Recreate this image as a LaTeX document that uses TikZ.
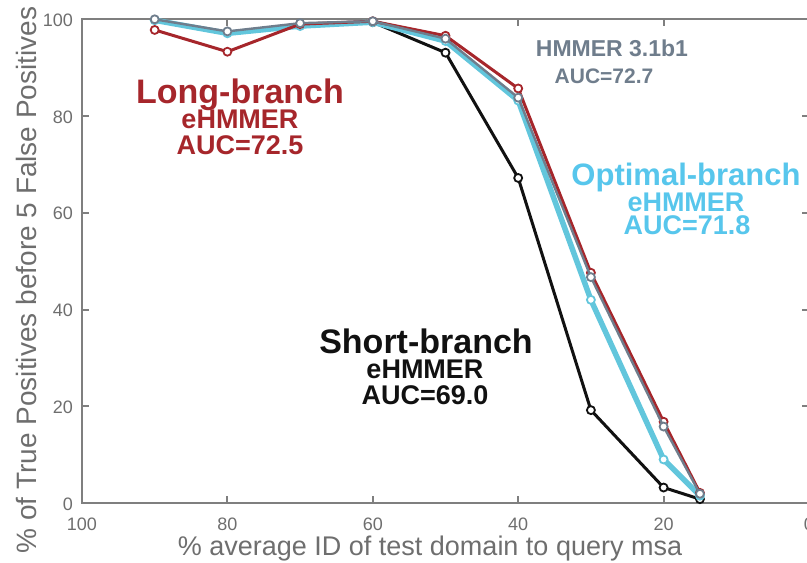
\documentclass[tikz,border=0pt]{standalone}
\usepackage{fontspec}
\setmainfont{Liberation Sans}

\definecolor{longred}{HTML}{A6262B}
\definecolor{hmmgray}{HTML}{6F7D8C}
\definecolor{optcyan}{HTML}{62C6DC}
\definecolor{opttext}{HTML}{57C6EC}
\definecolor{shortblk}{HTML}{111111}
\definecolor{axisgray}{HTML}{7F7F7F}
\definecolor{ticktext}{HTML}{6E6E6E}

\tikzset{
  axisline/.style={draw=axisgray,line width=2pt},
  ticklab/.style={text=ticktext,inner sep=0pt,font=\fontsize{18}{18}\selectfont},
  axislab/.style={text=ticktext,inner sep=0pt},
  redline/.style={draw=longred,line width=3pt,line join=round},
  grayline/.style={draw=hmmgray,line width=2.4pt,line join=round},
  cyanline/.style={draw=optcyan,line width=5.5pt,line join=round},
  blackline/.style={draw=shortblk,line width=3pt,line join=round},
  marker/.style={circle,fill=white,inner sep=0pt,minimum size=8pt,line width=1.8pt},
  bigtitle/.style={anchor=base,inner sep=0pt,font=\bfseries\fontsize{34}{34}\selectfont},
  subtitle/.style={anchor=base,inner sep=0pt,font=\bfseries\fontsize{27}{27}\selectfont},
}

\begin{document}
\begin{tikzpicture}[x=1pt,y=-1pt]
\useasboundingbox (0,0) rectangle (807,563);

% plot frame
\coordinate (bl) at (82,503);
\coordinate (tl) at (82,19);
\coordinate (br) at (809,503);
\coordinate (tr) at (809,19);
\draw[axisline] (tl) -- (bl) -- (br) -- (tr) -- cycle;

\begin{scope}[shift={(809,503)},x=-7.27pt,y=4.837pt]
  % x ticks (bottom and top) with labels
  \foreach \v in {20,40,60,80} {
    \coordinate (xb\v) at (\v,0);
    \coordinate (xt\v) at (\v,100);
    \draw[axisline] (xb\v) -- ++(0,7pt);
    \draw[axisline] (xt\v) -- ++(0,-7pt);
  }
  \foreach \v in {0,20,40,60,80,100}
    \node[ticklab,anchor=base] (xl\v) at ([yshift=-27pt]\v,0) {\v};
  % y ticks (left and right) with labels
  \foreach \v in {20,40,60,80} {
    \coordinate (yl\v) at (100,\v);
    \coordinate (yr\v) at (0,\v);
    \draw[axisline] (yl\v) -- ++(7pt,0);
    \draw[axisline] (yr\v) -- ++(-7pt,0);
  }
  \foreach \v in {0,20,40,60,80,100}
    \node[ticklab,anchor=east] (ylab\v) at ([xshift=-9pt,yshift=-1pt]100,\v) {\v};

  % Short-branch eHMMER
  \foreach \x/\y [count=\i] in {60/99.4,50/93.1,40/67.2,30/19.2,20/3.2,15/0.8}
    \coordinate (blk\i) at (\x,\y);
  \draw[blackline] (blk1) \foreach \i in {2,...,6} {-- (blk\i)};
  \foreach \i in {1,...,6}
    \node[marker,draw=shortblk] (blkm\i) at (blk\i) {};

  % Optimal-branch eHMMER
  \foreach \x/\y [count=\i] in {90/99.8,80/97.1,70/98.6,60/99.4,50/95.5,40/83.2,30/42.0,20/9.0,15/1.5}
    \coordinate (cyn\i) at (\x,\y);
  \draw[cyanline] (cyn1) \foreach \i in {2,...,9} {-- (cyn\i)};
  \foreach \i in {1,...,9}
    \node[marker,draw=optcyan] (cynm\i) at (cyn\i) {};

  % Long-branch eHMMER
  \foreach \x/\y [count=\i] in {90/97.8,80/93.3,70/99.0,60/99.6,50/96.6,40/85.7,30/47.6,20/16.8,15/2.1}
    \coordinate (red\i) at (\x,\y);
  \draw[redline] (red1) \foreach \i in {2,...,9} {-- (red\i)};
  \foreach \i in {1,...,9}
    \node[marker,draw=longred] (redm\i) at (red\i) {};

  % HMMER 3.1b1
  \foreach \x/\y [count=\i] in {90/100,80/97.5,70/99.2,60/99.6,50/96.0,40/83.8,30/46.7,20/15.8,15/1.9}
    \coordinate (gry\i) at (\x,\y);
  \draw[grayline] (gry1) \foreach \i in {2,...,9} {-- (gry\i)};
  \foreach \i in {1,...,9}
    \node[marker,draw=hmmgray] (grym\i) at (gry\i) {};
\end{scope}

% axis titles
\node[axislab,anchor=base,font=\fontsize{27}{27}\selectfont] (xtitle) at (430,555)
  {\% average ID of test domain to query msa};
\node[axislab,anchor=base,rotate=90,font=\fontsize{28}{28}\selectfont] (ytitle) at (36,280)
  {\% of True Positives before 5 False Positives};

% series annotations
\node[bigtitle,text=longred] (longA) at (240,103) {Long-branch};
\node[subtitle,text=longred] (longB) at (240,128) {eHMMER};
\node[subtitle,text=longred] (longC) at (240,154) {AUC=72.5};

\node[anchor=base,inner sep=0pt,text=hmmgray,font=\bfseries\fontsize{23}{23}\selectfont] (hmmA) at (612,56) {HMMER 3.1b1};
\node[anchor=base,inner sep=0pt,text=hmmgray,font=\bfseries\fontsize{21}{21}\selectfont] (hmmB) at (604,83) {AUC=72.7};

\node[anchor=base,inner sep=0pt,text=opttext,font=\bfseries\fontsize{31}{31}\selectfont] (optA) at (686,185) {Optimal-branch};
\node[subtitle,text=opttext] (optB) at (686,211) {eHMMER};
\node[subtitle,text=opttext] (optC) at (687,234) {AUC=71.8};

\node[bigtitle,text=shortblk] (shortA) at (426,353) {Short-branch};
\node[subtitle,text=shortblk] (shortB) at (425,378) {eHMMER};
\node[subtitle,text=shortblk] (shortC) at (425,404) {AUC=69.0};
\end{tikzpicture}
\end{document}
